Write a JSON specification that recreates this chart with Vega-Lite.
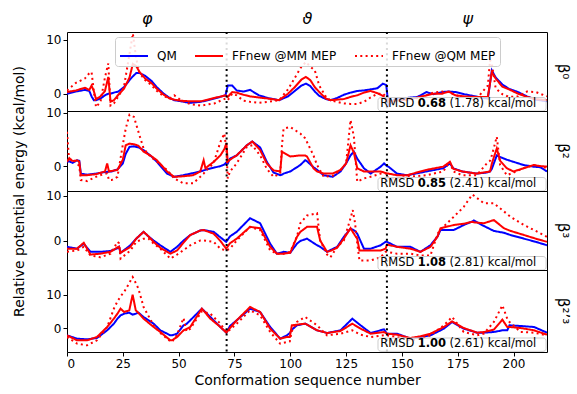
{
  "$schema": "https://vega.github.io/schema/vega-lite/v6.json",
  "padding": {"left": 11, "top": 9, "right": 5, "bottom": 5},
  "background": "white",
  "datasets": {
    "d": [
      {"p":1,"x":0,"a":0,"b":0.3,"c":0.6},{"p":1,"x":4,"a":0.4,"b":0.6,"c":2.0},{"p":1,"x":8,"a":0.7,"b":1.1,"c":2.8},{"p":1,"x":10,"a":0.5,"b":0.7,"c":3.8},{"p":1,"x":11,"a":-0.5,"b":1.5,"c":4.0},{"p":1,"x":12,"a":-1.2,"b":0.5,"c":0.5},{"p":1,"x":13,"a":-1.2,"b":-1.0,"c":-2.5},{"p":1,"x":15,"a":-0.9,"b":-0.5,"c":-1.5},{"p":1,"x":17,"a":-0.3,"b":0.5,"c":3.0},{"p":1,"x":18.5,"a":0.0,"b":3.1,"c":5.6},{"p":1,"x":19.5,"a":0.0,"b":-1.5,"c":-2.2},{"p":1,"x":21,"a":0.2,"b":-1.2,"c":-1.8},{"p":1,"x":23,"a":0.4,"b":-0.2,"c":-0.5},{"p":1,"x":25.5,"a":1.2,"b":0.9,"c":1.2},{"p":1,"x":28,"a":2.5,"b":3.0,"c":7.4},{"p":1,"x":29.5,"a":3.2,"b":5.5,"c":11.1},{"p":1,"x":31,"a":3.8,"b":5.1,"c":6.5},{"p":1,"x":32.5,"a":3.8,"b":4.0,"c":3.8},{"p":1,"x":35,"a":3.3,"b":2.8,"c":2.5},{"p":1,"x":38,"a":2.3,"b":1.9,"c":1.5},{"p":1,"x":40,"a":1.3,"b":1.0,"c":0.6},{"p":1,"x":43,"a":0.1,"b":-0.1,"c":-0.4},{"p":1,"x":46,"a":-0.8,"b":-0.9,"c":-0.9},{"p":1,"x":48,"a":-1.2,"b":-1.1,"c":-0.3},{"p":1,"x":51,"a":-1.4,"b":-1.3,"c":-1.2},{"p":1,"x":55,"a":-1.7,"b":-1.4,"c":-1.9},{"p":1,"x":60,"a":-1.5,"b":-1.4,"c":-2.2},{"p":1,"x":66,"a":-0.9,"b":-0.8,"c":-1.8},{"p":1,"x":71,"a":-0.3,"b":-0.3,"c":-0.9},{"p":1,"x":72,"a":1.5,"b":-0.6,"c":-1.2},{"p":1,"x":74,"a":1.5,"b":0.3,"c":0.0},{"p":1,"x":76,"a":0.6,"b":0.2,"c":-0.3},{"p":1,"x":79,"a":0.4,"b":-0.2,"c":-1.3},{"p":1,"x":82,"a":0.7,"b":-0.5,"c":-1.5},{"p":1,"x":86,"a":-0.3,"b":-0.7,"c":-1.7},{"p":1,"x":90,"a":-0.8,"b":-0.9,"c":-1.5},{"p":1,"x":95,"a":-1.2,"b":-1.2,"c":-1.2},{"p":1,"x":99,"a":-0.5,"b":0.0,"c":0.8},{"p":1,"x":102,"a":0.5,"b":1.2,"c":2.9},{"p":1,"x":105,"a":1.5,"b":2.6,"c":5.0},{"p":1,"x":107,"a":1.85,"b":3.1,"c":5.85},{"p":1,"x":109,"a":1.4,"b":2.5,"c":5.0},{"p":1,"x":111,"a":0.4,"b":1.2,"c":4.3},{"p":1,"x":113,"a":-0.4,"b":0.3,"c":1.5},{"p":1,"x":116,"a":-1.0,"b":-0.9,"c":-0.6},{"p":1,"x":118,"a":-1.2,"b":-1.2,"c":-1.2},{"p":1,"x":121,"a":-0.8,"b":-1.1,"c":-1.5},{"p":1,"x":124,"a":-0.2,"b":-1.0,"c":-1.8},{"p":1,"x":127,"a":0.2,"b":-0.6,"c":-1.9},{"p":1,"x":130,"a":0.5,"b":-0.3,"c":-1.9},{"p":1,"x":133,"a":0.6,"b":0.2,"c":-1.5},{"p":1,"x":136,"a":0.8,"b":0.5,"c":-0.7},{"p":1,"x":139,"a":1.0,"b":0.1,"c":0.0},{"p":1,"x":141.5,"a":1.85,"b":-0.4,"c":0.0},{"p":1,"x":143,"a":1.6,"b":-1.2,"c":-0.6},{"p":1,"x":144,"a":-2.2,"b":-1.5,"c":-1.5},{"p":1,"x":147,"a":-0.9,"b":-1.3,"c":-1.4},{"p":1,"x":152,"a":-0.8,"b":-1.1,"c":-1.2},{"p":1,"x":157,"a":-0.6,"b":-0.7,"c":-0.8},{"p":1,"x":161,"a":0.3,"b":-0.3,"c":-0.3},{"p":1,"x":164,"a":-0.1,"b":0.0,"c":0.2},{"p":1,"x":168,"a":0.3,"b":0.0,"c":0.4},{"p":1,"x":171,"a":0.4,"b":0.4,"c":0.3},{"p":1,"x":174,"a":0.3,"b":-0.3,"c":-0.3},{"p":1,"x":178,"a":-0.1,"b":-0.5,"c":-0.7},{"p":1,"x":183,"a":-0.5,"b":-0.6,"c":-1.2},{"p":1,"x":186,"a":-0.8,"b":-0.6,"c":0.3},{"p":1,"x":188.5,"a":-0.9,"b":-0.6,"c":1.5},{"p":1,"x":189.5,"a":2.0,"b":2.0,"c":6.2},{"p":1,"x":190.3,"a":4.3,"b":4.0,"c":5.5},{"p":1,"x":192,"a":3.0,"b":2.8,"c":1.0},{"p":1,"x":195,"a":1.7,"b":1.3,"c":-0.1},{"p":1,"x":198,"a":0.9,"b":0.8,"c":-0.6},{"p":1,"x":202,"a":0.3,"b":0.0,"c":-0.5},{"p":1,"x":206,"a":-0.5,"b":-0.6,"c":0.4},{"p":1,"x":210,"a":-1.1,"b":-1.0,"c":0.3},{"p":1,"x":215,"a":-1.4,"b":-1.2,"c":-0.5},

      {"p":2,"x":0,"a":0.8,"b":0.8,"c":6.4},{"p":2,"x":1,"a":0.9,"b":1.5,"c":0.8},{"p":2,"x":2.5,"a":0.6,"b":0.9,"c":1.4},{"p":2,"x":4.5,"a":1.1,"b":1.1,"c":0.5},{"p":2,"x":5.5,"a":1.0,"b":0.8,"c":0.0},{"p":2,"x":6.2,"a":-1.4,"b":-1.7,"c":-2.6},{"p":2,"x":9,"a":-1.6,"b":-1.7,"c":-2.8},{"p":2,"x":13,"a":-1.4,"b":-1.5,"c":-2.0},{"p":2,"x":17,"a":-1.1,"b":-1.0,"c":-1.4},{"p":2,"x":18,"a":-1.1,"b":0.5,"c":-1.4},{"p":2,"x":18.8,"a":-1.0,"b":-1.0,"c":-2.6},{"p":2,"x":20,"a":-1.0,"b":-0.9,"c":-2.6},{"p":2,"x":22.6,"a":-0.6,"b":-0.7,"c":-2.0},{"p":2,"x":25,"a":0.5,"b":1.2,"c":4.0},{"p":2,"x":26.3,"a":2.3,"b":3.9,"c":7.0},{"p":2,"x":28,"a":3.6,"b":4.2,"c":9.6},{"p":2,"x":30,"a":3.7,"b":4.1,"c":9.2},{"p":2,"x":32,"a":3.5,"b":3.8,"c":6.4},{"p":2,"x":34.3,"a":3.0,"b":2.7,"c":3.3},{"p":2,"x":37.3,"a":2.0,"b":2.0,"c":1.8},{"p":2,"x":40.3,"a":0.8,"b":1.1,"c":0.8},{"p":2,"x":44.8,"a":-1.4,"b":-1.0,"c":-0.7},{"p":2,"x":48,"a":-2.0,"b":-2.0,"c":-2.3},{"p":2,"x":52,"a":-1.7,"b":-1.9,"c":-3.2},{"p":2,"x":56.5,"a":-1.3,"b":-1.7,"c":-3.2},{"p":2,"x":59.7,"a":-1.0,"b":-1.0,"c":-2.0},{"p":2,"x":61.2,"a":-0.8,"b":1.1,"c":-1.4},{"p":2,"x":62,"a":-0.7,"b":-0.4,"c":-1.0},{"p":2,"x":65.7,"a":-0.3,"b":0.8,"c":0.6},{"p":2,"x":68.7,"a":0.0,"b":2.0,"c":4.5},{"p":2,"x":70.5,"a":0.3,"b":3.2,"c":6.1},{"p":2,"x":71.4,"a":0.7,"b":4.3,"c":3.0},{"p":2,"x":72,"a":0.5,"b":0.8,"c":-2.3},{"p":2,"x":73,"a":1.4,"b":1.2,"c":-1.0},{"p":2,"x":76,"a":2.0,"b":2.0,"c":0.5},{"p":2,"x":80.6,"a":3.9,"b":3.9,"c":3.6},{"p":2,"x":83,"a":4.6,"b":4.6,"c":3.9},{"p":2,"x":86.5,"a":3.5,"b":3.0,"c":2.0},{"p":2,"x":89.5,"a":0.8,"b":0.5,"c":-0.5},{"p":2,"x":92.5,"a":-1.2,"b":-0.8,"c":-2.0},{"p":2,"x":95.5,"a":-1.7,"b":-1.0,"c":-1.4},{"p":2,"x":96.3,"a":-1.6,"b":2.7,"c":4.0},{"p":2,"x":97,"a":-1.4,"b":2.5,"c":7.0},{"p":2,"x":100,"a":-1.0,"b":1.8,"c":7.3},{"p":2,"x":104.5,"a":0.2,"b":2.0,"c":6.1},{"p":2,"x":106.7,"a":1.1,"b":2.0,"c":5.2},{"p":2,"x":107.5,"a":0.9,"b":1.8,"c":4.5},{"p":2,"x":110.4,"a":-0.2,"b":-0.4,"c":2.0},{"p":2,"x":112,"a":-0.7,"b":-1.0,"c":0.2},{"p":2,"x":115,"a":-1.7,"b":-1.4,"c":-2.0},{"p":2,"x":119,"a":-2.0,"b":-1.4,"c":-1.8},{"p":2,"x":122.5,"a":-1.0,"b":-0.7,"c":-0.8},{"p":2,"x":125,"a":0.5,"b":0.5,"c":0.5},{"p":2,"x":127,"a":2.0,"b":3.9,"c":8.6},{"p":2,"x":128.5,"a":2.7,"b":2.5,"c":5.5},{"p":2,"x":130,"a":1.4,"b":-0.4,"c":-2.9},{"p":2,"x":133,"a":-0.4,"b":-1.0,"c":-2.3},{"p":2,"x":136,"a":-1.4,"b":-1.0,"c":-2.0},{"p":2,"x":140.5,"a":-0.1,"b":-1.0,"c":-1.4},{"p":2,"x":142,"a":0.5,"b":-1.2,"c":-1.4},{"p":2,"x":143.3,"a":0.0,"b":-1.4,"c":-1.4},{"p":2,"x":144,"a":-0.1,"b":-1.4,"c":-2.3},{"p":2,"x":147.8,"a":-1.4,"b":-1.7,"c":-2.3},{"p":2,"x":152.3,"a":-1.7,"b":-1.7,"c":-2.0},{"p":2,"x":161,"a":-1.0,"b":-0.7,"c":-1.7},{"p":2,"x":168.5,"a":-0.4,"b":-0.1,"c":-1.0},{"p":2,"x":171.5,"a":0.5,"b":0.8,"c":0.8},{"p":2,"x":173,"a":-0.4,"b":-0.5,"c":-1.0},{"p":2,"x":177,"a":-1.0,"b":-1.0,"c":-1.7},{"p":2,"x":183.5,"a":-1.4,"b":-1.4,"c":-1.7},{"p":2,"x":188,"a":-1.2,"b":-1.1,"c":0.5},{"p":2,"x":189.5,"a":-1.0,"b":-1.0,"c":1.0},{"p":2,"x":190.3,"a":-0.5,"b":0.5,"c":2.0},{"p":2,"x":192.5,"a":2.0,"b":3.3,"c":5.5},{"p":2,"x":194,"a":1.7,"b":1.0,"c":0.2},{"p":2,"x":197,"a":1.2,"b":-0.4,"c":-1.7},{"p":2,"x":200,"a":0.8,"b":-1.0,"c":-1.2},{"p":2,"x":204.5,"a":0.2,"b":-0.4,"c":-0.4},{"p":2,"x":209,"a":-0.1,"b":0.2,"c":0.2},{"p":2,"x":212,"a":-0.2,"b":0.0,"c":0.0},{"p":2,"x":215,"a":-1.0,"b":-0.1,"c":-0.4},

      {"p":3,"x":0,"a":-1.3,"b":-1.7,"c":-2.4},{"p":3,"x":4.5,"a":-1.7,"b":-1.7,"c":-2.1},{"p":3,"x":7.5,"a":-0.6,"b":-0.4,"c":-1.3},{"p":3,"x":10.5,"a":-2.4,"b":-3.0,"c":-3.2},{"p":3,"x":15,"a":-2.4,"b":-2.8,"c":-3.6},{"p":3,"x":19.5,"a":-2.2,"b":-2.4,"c":-2.8},{"p":3,"x":22.6,"a":-1.6,"b":-1.4,"c":-0.2},{"p":3,"x":23.3,"a":-1.3,"b":-1.3,"c":-0.5},{"p":3,"x":24,"a":-2.6,"b":-2.6,"c":-3.9},{"p":3,"x":28.4,"a":-0.95,"b":-1.3,"c":-2.1},{"p":3,"x":31,"a":0.5,"b":0.5,"c":-0.2},{"p":3,"x":34.3,"a":2.0,"b":2.0,"c":0.5},{"p":3,"x":36.5,"a":1.0,"b":1.0,"c":0.5},{"p":3,"x":38.8,"a":0.1,"b":-0.2,"c":-0.6},{"p":3,"x":41.8,"a":-0.95,"b":-1.5,"c":-1.7},{"p":3,"x":46.3,"a":-2.4,"b":-2.8,"c":-3.9},{"p":3,"x":49.3,"a":-1.3,"b":-2.1,"c":-3.0},{"p":3,"x":52,"a":0.0,"b":-0.5,"c":-2.1},{"p":3,"x":55.2,"a":1.3,"b":1.3,"c":-0.95},{"p":3,"x":59.7,"a":2.3,"b":2.3,"c":0.1},{"p":3,"x":61.2,"a":2.4,"b":2.4,"c":0.1},{"p":3,"x":65.7,"a":2.0,"b":1.6,"c":-0.2},{"p":3,"x":68.7,"a":0.8,"b":0.0,"c":-1.7},{"p":3,"x":71.3,"a":-0.2,"b":-1.7,"c":-2.1},{"p":3,"x":73,"a":1.0,"b":-0.5,"c":-1.7},{"p":3,"x":76,"a":2.0,"b":0.5,"c":0.1},{"p":3,"x":82,"a":5.0,"b":3.1,"c":3.1},{"p":3,"x":86.5,"a":3.9,"b":2.8,"c":2.4},{"p":3,"x":91,"a":-0.6,"b":-1.3,"c":-2.1},{"p":3,"x":94,"a":-2.8,"b":-2.8,"c":-2.8},{"p":3,"x":97,"a":-2.4,"b":-2.8,"c":-2.8},{"p":3,"x":100,"a":-2.6,"b":-2.6,"c":-2.4},{"p":3,"x":103,"a":-0.6,"b":0.9,"c":1.0},{"p":3,"x":104.5,"a":0.0,"b":2.0,"c":3.9},{"p":3,"x":107.5,"a":0.5,"b":3.1,"c":5.6},{"p":3,"x":112,"a":-0.95,"b":3.1,"c":6.1},{"p":3,"x":113.4,"a":-1.3,"b":0.1,"c":0.1},{"p":3,"x":116.5,"a":-2.4,"b":-2.4,"c":-3.0},{"p":3,"x":118,"a":-2.0,"b":-2.2,"c":-3.6},{"p":3,"x":121,"a":-1.3,"b":-1.5,"c":-1.3},{"p":3,"x":124,"a":0.9,"b":0.5,"c":0.1},{"p":3,"x":127,"a":2.7,"b":2.8,"c":5.0},{"p":3,"x":128,"a":2.5,"b":2.0,"c":6.8},{"p":3,"x":129,"a":2.2,"b":1.2,"c":4.0},{"p":3,"x":130,"a":1.6,"b":0.5,"c":-0.5},{"p":3,"x":131,"a":0.5,"b":-2.1,"c":-4.3},{"p":3,"x":133,"a":-1.7,"b":-2.1,"c":-4.3},{"p":3,"x":136,"a":-1.7,"b":-2.1,"c":-4.3},{"p":3,"x":140.5,"a":-0.95,"b":-2.1,"c":-3.6},{"p":3,"x":142.7,"a":-0.2,"b":-1.7,"c":-2.4},{"p":3,"x":143.3,"a":-0.2,"b":-0.8,"c":-2.4},{"p":3,"x":147.8,"a":-1.3,"b":-1.3,"c":-2.8},{"p":3,"x":153.8,"a":-1.3,"b":-1.7,"c":-2.8},{"p":3,"x":158.3,"a":-2.4,"b":-2.4,"c":-3.2},{"p":3,"x":162.8,"a":-0.95,"b":-1.3,"c":-3.2},{"p":3,"x":166,"a":1.0,"b":1.0,"c":1.6},{"p":3,"x":167.3,"a":2.4,"b":2.8,"c":2.5},{"p":3,"x":173.2,"a":2.4,"b":3.5,"c":5.3},{"p":3,"x":177.7,"a":3.5,"b":3.8,"c":7.5},{"p":3,"x":181.5,"a":4.3,"b":4.2,"c":10.2},{"p":3,"x":182.2,"a":4.5,"b":4.1,"c":10.0},{"p":3,"x":186.7,"a":3.3,"b":3.9,"c":8.3},{"p":3,"x":191.2,"a":2.2,"b":4.6,"c":8.3},{"p":3,"x":195.7,"a":1.8,"b":2.8,"c":6.5},{"p":3,"x":198.7,"a":1.3,"b":2.2,"c":5.3},{"p":3,"x":204.7,"a":0.5,"b":1.3,"c":3.5},{"p":3,"x":210,"a":-0.2,"b":0.5,"c":2.2},{"p":3,"x":215,"a":-0.95,"b":-0.2,"c":0.9},

      {"p":4,"x":0,"a":-2.2,"b":-2.2,"c":-2.7},{"p":4,"x":4.5,"a":-3.2,"b":-3.7,"c":-4.7},{"p":4,"x":9,"a":-3.4,"b":-3.7,"c":-5.2},{"p":4,"x":13.4,"a":-3.0,"b":-2.7,"c":-3.7},{"p":4,"x":18,"a":-0.7,"b":0.3,"c":0.3},{"p":4,"x":21,"a":1.3,"b":2.8,"c":5.8},{"p":4,"x":22.6,"a":2.8,"b":4.3,"c":8.0},{"p":4,"x":24,"a":3.8,"b":5.8,"c":9.5},{"p":4,"x":25.6,"a":4.3,"b":4.8,"c":10.8},{"p":4,"x":27.9,"a":4.6,"b":5.3,"c":13.5},{"p":4,"x":29.4,"a":4.0,"b":10.0,"c":15.3},{"p":4,"x":30.8,"a":4.3,"b":5.3,"c":13.5},{"p":4,"x":32,"a":4.6,"b":4.5,"c":11.8},{"p":4,"x":34.3,"a":3.3,"b":2.8,"c":6.3},{"p":4,"x":38.8,"a":1.3,"b":0.3,"c":0.8},{"p":4,"x":41.8,"a":-0.7,"b":-1.2,"c":-1.5},{"p":4,"x":46.3,"a":-2.2,"b":-3.7,"c":-4.0},{"p":4,"x":47,"a":-2.2,"b":-3.7,"c":-4.2},{"p":4,"x":49.3,"a":-1.7,"b":-2.7,"c":-2.0},{"p":4,"x":52.2,"a":0.8,"b":-0.7,"c":3.0},{"p":4,"x":53.5,"a":1.2,"b":-0.3,"c":-1.0},{"p":4,"x":55.2,"a":2.3,"b":0.3,"c":-0.2},{"p":4,"x":60.4,"a":5.8,"b":5.8,"c":5.0},{"p":4,"x":64.2,"a":3.3,"b":2.8,"c":4.3},{"p":4,"x":68.7,"a":0.3,"b":0.3,"c":1.3},{"p":4,"x":71.4,"a":-1.4,"b":-1.4,"c":-1.2},{"p":4,"x":73,"a":0.6,"b":0.0,"c":-0.5},{"p":4,"x":76,"a":2.3,"b":2.3,"c":1.3},{"p":4,"x":82,"a":5.8,"b":6.3,"c":5.3},{"p":4,"x":86.5,"a":4.8,"b":4.8,"c":3.8},{"p":4,"x":91,"a":0.3,"b":-0.2,"c":-1.2},{"p":4,"x":95.5,"a":-3.2,"b":-3.2,"c":-4.7},{"p":4,"x":98.5,"a":-2.2,"b":-2.7,"c":-4.2},{"p":4,"x":99.8,"a":-1.5,"b":-2.7,"c":-4.0},{"p":4,"x":100.7,"a":-0.5,"b":0.8,"c":-1.0},{"p":4,"x":103,"a":0.8,"b":1.0,"c":1.8},{"p":4,"x":106.7,"a":1.3,"b":1.3,"c":3.3},{"p":4,"x":112,"a":-0.7,"b":-0.7,"c":0.8},{"p":4,"x":116.5,"a":-1.5,"b":-1.5,"c":-2.2},{"p":4,"x":122.5,"a":-0.7,"b":-0.9,"c":-1.7},{"p":4,"x":127.8,"a":2.8,"b":1.3,"c":-0.7},{"p":4,"x":131.5,"a":0.8,"b":-0.2,"c":-2.0},{"p":4,"x":136,"a":-1.5,"b":-1.7,"c":-2.7},{"p":4,"x":142,"a":-0.4,"b":-1.2,"c":-2.2},{"p":4,"x":143.3,"a":-1.7,"b":-1.7,"c":-2.2},{"p":4,"x":147.8,"a":-1.7,"b":-2.0,"c":-2.7},{"p":4,"x":153.8,"a":-3.2,"b":-3.0,"c":-3.7},{"p":4,"x":158.3,"a":-2.7,"b":-2.5,"c":-3.2},{"p":4,"x":162.8,"a":-2.2,"b":-1.7,"c":-2.2},{"p":4,"x":168.8,"a":-0.2,"b":0.3,"c":0.8},{"p":4,"x":172.5,"a":1.8,"b":2.0,"c":3.3},{"p":4,"x":177.7,"a":-0.2,"b":0.0,"c":-1.2},{"p":4,"x":183.7,"a":-1.4,"b":-1.4,"c":-2.2},{"p":4,"x":186.7,"a":-1.4,"b":-1.2,"c":-1.7},{"p":4,"x":191.2,"a":-1.2,"b":-0.5,"c":1.8},{"p":4,"x":195,"a":-0.7,"b":2.5,"c":6.8},{"p":4,"x":197.2,"a":-0.7,"b":0.3,"c":2.8},{"p":4,"x":198.2,"a":0.8,"b":0.3,"c":1.8},{"p":4,"x":203.2,"a":0.6,"b":0.0,"c":-1.2},{"p":4,"x":209.2,"a":0.3,"b":-0.7,"c":-1.4},{"p":4,"x":215,"a":-1.4,"b":-2.0,"c":-2.2}
    ]
  },
  "config": {
    "font": "DejaVu Sans",
    "view": {"stroke": "black", "strokeWidth": 1},
    "axis": {"labelFont": "DejaVu Sans", "labelFontSize": 12, "labelColor": "black", "titleFont": "DejaVu Sans", "titleFontSize": 14, "titleFontWeight": "normal", "titleColor": "black", "tickColor": "black", "tickSize": 4, "labelPadding": 2, "domain": false, "grid": false},
    "title": {"orient": "right", "fontSize": 15, "fontWeight": "normal", "font": "DejaVu Sans", "offset": 8, "anchor": "middle", "color": "black"}
  },
  "bounds": "flush",
  "spacing": 0,
  "resolve": {"scale": {"x": "independent", "y": "independent", "color": "shared", "strokeDash": "shared"}},
  "vconcat": [
    {
      "width": 480, "height": 79,
      "title": {"text": "β⁰"},
      "data": {"name": "d"},
      "layer": [
        {"transform": [{"filter": "datum.p == 1"}, {"fold": ["a", "b", "c"], "as": ["s", "v"]}],
         "mark": {"type": "line", "strokeWidth": 2, "clip": true},
         "encoding": {
           "x": {"field": "x", "type": "quantitative", "scale": {"domain": [0, 215], "nice": false, "zero": false},
                 "axis": {"orient": "top", "values": [35.75, 107.5, 179.25], "ticks": false, "labelFontSize": 16, "labelFontStyle": "italic", "labelPadding": 6, "title": null, "labelExpr": "datum.value < 70 ? 'φ' : datum.value < 150 ? 'ϑ' : 'ψ'"}},
           "y": {"field": "v", "type": "quantitative", "scale": {"domain": [-3.2, 11.4], "nice": false, "zero": false}, "axis": {"values": [0, 10], "title": null}},
           "color": {"field": "s", "type": "nominal", "scale": {"domain": ["a", "b", "c"], "range": ["#0000ff", "#ff0000", "#ff0000"]},
                     "legend": {"orient": "none", "legendX": 48, "legendY": 5, "direction": "horizontal", "symbolType": "stroke", "symbolSize": 784, "symbolStrokeWidth": 2, "labelFontSize": 12, "labelFont": "DejaVu Sans", "labelColor": "black", "labelOffset": 8, "columnPadding": 14, "padding": 4, "strokeColor": "#cccccc", "fillColor": "rgba(255,255,255,0.85)", "cornerRadius": 3, "title": null, "labelExpr": "datum.label == 'a' ? 'QM' : datum.label == 'b' ? 'FFnew @MM MEP' : 'FFnew @QM MEP'"}},
           "strokeDash": {"field": "s", "type": "nominal", "scale": {"domain": ["a", "b", "c"], "range": [[1, 0], [1, 0], [2, 3.3]]},
                     "legend": {"orient": "none", "legendX": 48, "legendY": 5, "direction": "horizontal", "symbolType": "stroke", "symbolSize": 784, "symbolStrokeWidth": 2, "labelFontSize": 12, "labelFont": "DejaVu Sans", "labelColor": "black", "labelOffset": 8, "columnPadding": 14, "padding": 4, "strokeColor": "#cccccc", "fillColor": "rgba(255,255,255,0.85)", "cornerRadius": 3, "title": null, "labelExpr": "datum.label == 'a' ? 'QM' : datum.label == 'b' ? 'FFnew @MM MEP' : 'FFnew @QM MEP'"}}
         }},
        {"data": {"values": [{}]}, "mark": {"type": "rule", "color": "black", "strokeWidth": 2, "strokeDash": [2, 3.3]}, "encoding": {"x": {"datum": 71.5}}},
        {"data": {"values": [{}]}, "mark": {"type": "rule", "color": "black", "strokeWidth": 2, "strokeDash": [2, 3.3]}, "encoding": {"x": {"datum": 143.3}}},
        {"data": {"values": [{}]}, "mark": {"type": "rect", "fill": "white", "fillOpacity": 0.8, "stroke": "#cccccc", "strokeWidth": 1, "cornerRadius": 3}, "encoding": {"x": {"datum": 139.3}, "x2": {"datum": 214.6}, "y": {"datum": -3.2}, "y2": {"datum": -0.7}}},
        {"data": {"values": [{}]}, "mark": {"type": "text", "text": "RMSD", "align": "left", "fontSize": 11.5, "baseline": "alphabetic"}, "encoding": {"x": {"datum": 140.3}, "y": {"datum": -2.46}}},
        {"data": {"values": [{}]}, "mark": {"type": "text", "text": "0.68", "align": "left", "fontSize": 11.5, "fontWeight": "bold", "baseline": "alphabetic"}, "encoding": {"x": {"datum": 157.1}, "y": {"datum": -2.46}}},
        {"data": {"values": [{}]}, "mark": {"type": "text", "text": "(1.78) kcal/mol", "align": "left", "fontSize": 11.5, "baseline": "alphabetic"}, "encoding": {"x": {"datum": 171.3}, "y": {"datum": -2.46}}}
      ]
    },
    {
      "width": 480, "height": 80,
      "title": {"text": "β²"},
      "data": {"name": "d"},
      "layer": [
        {"transform": [{"filter": "datum.p == 2"}, {"fold": ["a", "b", "c"], "as": ["s", "v"]}],
         "mark": {"type": "line", "strokeWidth": 2, "clip": true},
         "encoding": {
           "x": {"field": "x", "type": "quantitative", "scale": {"domain": [0, 215], "nice": false, "zero": false}, "axis": null},
           "y": {"field": "v", "type": "quantitative", "scale": {"domain": [-4.65, 10.3], "nice": false, "zero": false}, "axis": {"values": [0, 10], "title": "Relative potential energy (kcal/mol)", "titleX": -41, "titleY": 80, "titleAnchor": "middle", "titleAlign": "center"}},
           "color": {"field": "s", "type": "nominal", "scale": {"domain": ["a", "b", "c"], "range": ["#0000ff", "#ff0000", "#ff0000"]}},
           "strokeDash": {"field": "s", "type": "nominal", "scale": {"domain": ["a", "b", "c"], "range": [[1, 0], [1, 0], [2, 3.3]]}}
         }},
        {"data": {"values": [{}]}, "mark": {"type": "rule", "color": "black", "strokeWidth": 2, "strokeDash": [2, 3.3]}, "encoding": {"x": {"datum": 71.5}}},
        {"data": {"values": [{}]}, "mark": {"type": "rule", "color": "black", "strokeWidth": 2, "strokeDash": [2, 3.3]}, "encoding": {"x": {"datum": 143.3}}},
        {"data": {"values": [{}]}, "mark": {"type": "rect", "fill": "white", "fillOpacity": 0.8, "stroke": "#cccccc", "strokeWidth": 1, "cornerRadius": 3}, "encoding": {"x": {"datum": 139.3}, "x2": {"datum": 214.6}, "y": {"datum": -4.65}, "y2": {"datum": -2.13}}},
        {"data": {"values": [{}]}, "mark": {"type": "text", "text": "RMSD", "align": "left", "fontSize": 11.5, "baseline": "alphabetic"}, "encoding": {"x": {"datum": 140.3}, "y": {"datum": -3.9}}},
        {"data": {"values": [{}]}, "mark": {"type": "text", "text": "0.85", "align": "left", "fontSize": 11.5, "fontWeight": "bold", "baseline": "alphabetic"}, "encoding": {"x": {"datum": 157.1}, "y": {"datum": -3.9}}},
        {"data": {"values": [{}]}, "mark": {"type": "text", "text": "(2.41) kcal/mol", "align": "left", "fontSize": 11.5, "baseline": "alphabetic"}, "encoding": {"x": {"datum": 171.3}, "y": {"datum": -3.9}}}
      ]
    },
    {
      "width": 480, "height": 79,
      "title": {"text": "β³"},
      "data": {"name": "d"},
      "layer": [
        {"transform": [{"filter": "datum.p == 3"}, {"fold": ["a", "b", "c"], "as": ["s", "v"]}],
         "mark": {"type": "line", "strokeWidth": 2, "clip": true},
         "encoding": {
           "x": {"field": "x", "type": "quantitative", "scale": {"domain": [0, 215], "nice": false, "zero": false}, "axis": null},
           "y": {"field": "v", "type": "quantitative", "scale": {"domain": [-6.4, 11.0], "nice": false, "zero": false}, "axis": {"values": [0, 10], "title": null}},
           "color": {"field": "s", "type": "nominal", "scale": {"domain": ["a", "b", "c"], "range": ["#0000ff", "#ff0000", "#ff0000"]}},
           "strokeDash": {"field": "s", "type": "nominal", "scale": {"domain": ["a", "b", "c"], "range": [[1, 0], [1, 0], [2, 3.3]]}}
         }},
        {"data": {"values": [{}]}, "mark": {"type": "rule", "color": "black", "strokeWidth": 2, "strokeDash": [2, 3.3]}, "encoding": {"x": {"datum": 71.5}}},
        {"data": {"values": [{}]}, "mark": {"type": "rule", "color": "black", "strokeWidth": 2, "strokeDash": [2, 3.3]}, "encoding": {"x": {"datum": 143.3}}},
        {"data": {"values": [{}]}, "mark": {"type": "rect", "fill": "white", "fillOpacity": 0.8, "stroke": "#cccccc", "strokeWidth": 1, "cornerRadius": 3}, "encoding": {"x": {"datum": 139.3}, "x2": {"datum": 214.6}, "y": {"datum": -6.4}, "y2": {"datum": -3.43}}},
        {"data": {"values": [{}]}, "mark": {"type": "text", "text": "RMSD", "align": "left", "fontSize": 11.5, "baseline": "alphabetic"}, "encoding": {"x": {"datum": 140.3}, "y": {"datum": -5.52}}},
        {"data": {"values": [{}]}, "mark": {"type": "text", "text": "1.08", "align": "left", "fontSize": 11.5, "fontWeight": "bold", "baseline": "alphabetic"}, "encoding": {"x": {"datum": 157.1}, "y": {"datum": -5.52}}},
        {"data": {"values": [{}]}, "mark": {"type": "text", "text": "(2.81) kcal/mol", "align": "left", "fontSize": 11.5, "baseline": "alphabetic"}, "encoding": {"x": {"datum": 171.3}, "y": {"datum": -5.52}}}
      ]
    },
    {
      "width": 480, "height": 82,
      "title": {"text": "β²’³"},
      "data": {"name": "d"},
      "layer": [
        {"transform": [{"filter": "datum.p == 4"}, {"fold": ["a", "b", "c"], "as": ["s", "v"]}],
         "mark": {"type": "line", "strokeWidth": 2, "clip": true},
         "encoding": {
           "x": {"field": "x", "type": "quantitative", "scale": {"domain": [0, 215], "nice": false, "zero": false}, "axis": {"values": [0, 25, 50, 75, 100, 125, 150, 175, 200], "title": "Conformation sequence number", "titlePadding": 4}},
           "y": {"field": "v", "type": "quantitative", "scale": {"domain": [-7.2, 17.4], "nice": false, "zero": false}, "axis": {"values": [0, 10], "title": null}},
           "color": {"field": "s", "type": "nominal", "scale": {"domain": ["a", "b", "c"], "range": ["#0000ff", "#ff0000", "#ff0000"]}},
           "strokeDash": {"field": "s", "type": "nominal", "scale": {"domain": ["a", "b", "c"], "range": [[1, 0], [1, 0], [2, 3.3]]}}
         }},
        {"data": {"values": [{}]}, "mark": {"type": "rule", "color": "black", "strokeWidth": 2, "strokeDash": [2, 3.3]}, "encoding": {"x": {"datum": 71.5}}},
        {"data": {"values": [{}]}, "mark": {"type": "rule", "color": "black", "strokeWidth": 2, "strokeDash": [2, 3.3]}, "encoding": {"x": {"datum": 143.3}}},
        {"data": {"values": [{}]}, "mark": {"type": "rect", "fill": "white", "fillOpacity": 0.8, "stroke": "#cccccc", "strokeWidth": 1, "cornerRadius": 3}, "encoding": {"x": {"datum": 139.3}, "x2": {"datum": 214.6}, "y": {"datum": -7.0}, "y2": {"datum": -3.0}}},
        {"data": {"values": [{}]}, "mark": {"type": "text", "text": "RMSD", "align": "left", "fontSize": 11.5, "baseline": "alphabetic"}, "encoding": {"x": {"datum": 140.3}, "y": {"datum": -5.7}}},
        {"data": {"values": [{}]}, "mark": {"type": "text", "text": "1.00", "align": "left", "fontSize": 11.5, "fontWeight": "bold", "baseline": "alphabetic"}, "encoding": {"x": {"datum": 157.1}, "y": {"datum": -5.7}}},
        {"data": {"values": [{}]}, "mark": {"type": "text", "text": "(2.61) kcal/mol", "align": "left", "fontSize": 11.5, "baseline": "alphabetic"}, "encoding": {"x": {"datum": 171.3}, "y": {"datum": -5.7}}}
      ]
    }
  ]
}
